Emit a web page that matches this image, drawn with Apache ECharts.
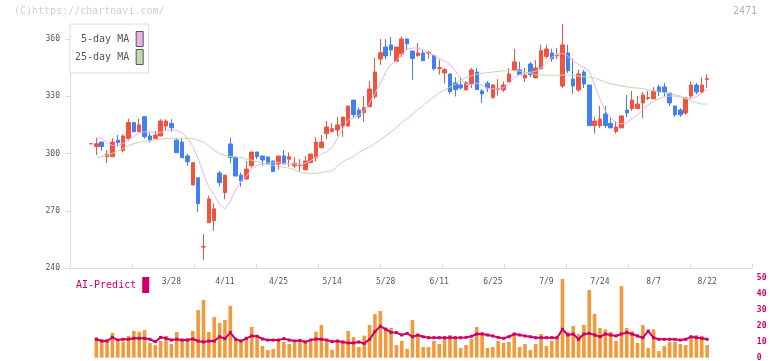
<!DOCTYPE html>
<html>
<head>
<meta charset="utf-8">
<script src="https://cdn.jsdelivr.net/npm/echarts@6/dist/echarts.min.js"></script>
<style>html,body{margin:0;padding:0;background:#fff}#c{width:772px;height:361px}</style>
</head>
<body>
<div id="c"></div>
<script>
const dates = ['3/6','3/7','3/8','3/11','3/12','3/13','3/14','3/15','3/18','3/19','3/21','3/22','3/25','3/26','3/27','3/28','3/29',
'4/1','4/2','4/3','4/4','4/5','4/8','4/9','4/10','4/11','4/12','4/15','4/16','4/17','4/18','4/19','4/22','4/23','4/24','4/25','4/26','4/30',
'5/1','5/2','5/7','5/8','5/9','5/10','5/13','5/14','5/15','5/16','5/17','5/20','5/21','5/22','5/23','5/24','5/27','5/28','5/29','5/30','5/31',
'6/3','6/4','6/5','6/6','6/7','6/10','6/11','6/12','6/13','6/14','6/17','6/18','6/19','6/20','6/21','6/24','6/25','6/26','6/27','6/28',
'7/1','7/2','7/3','7/4','7/5','7/8','7/9','7/10','7/11','7/12','7/16','7/17','7/18','7/19','7/22','7/23','7/24','7/25','7/26','7/29','7/30','7/31',
'8/1','8/2','8/5','8/6','8/7','8/8','8/9','8/13','8/14','8/15','8/16','8/19','8/20','8/21','8/22'];

const tickLabels = ['3/28','4/11','4/25','5/14','5/28','6/11','6/25','7/9','7/24','8/7','8/22'];

const openP = [305.1,303.6,306,298.3,298.3,307,301.5,307.8,316.2,311.4,
 319.3,309.2,307.8,309.2,314.4,315.8,307,306,298.7,283.5,
 287.3,251,263.7,264.8,289.8,279.5,305,298,288.7,286.6,
 293.6,300.8,298.7,298.2,296.1,294.5,298.7,297,293.5,293.7,
 291.5,295.2,297.8,303,310.4,311.6,312.3,314.4,314.4,328,
 322.8,321.4,324.5,329.8,349.5,355.8,356.9,348.3,352.1,360,
 353.7,351.3,352.7,352.6,351.3,344.6,342.2,341.7,337,335.9,
 333.3,336.4,342.7,332.8,336.8,329.4,333.7,333.3,337.5,343.4,
 343.8,339.6,346.9,339.6,344.4,350.9,352.7,351.2,335.4,352.7,
 339,333.3,342.7,335.9,314.6,314.6,320.7,315.8,311.6,313.4,
 322.8,323.5,323.5,326.5,328.9,328.6,334.9,334.9,331.7,324.9,
 322.8,321.2,330.1,335.9,332.2,338.8];

const closeP = [305.1,305.1,303.6,299.7,306,305.7,309.2,316.2,311.4,315,
 308.8,306.7,309.7,317,317,313.5,300.4,297.8,295.7,295.2,
 273.7,251.2,276.2,271,284.7,288.7,298,288.2,285.6,291.9,
 300.8,298.3,296.6,294.5,290.5,298.7,294.5,298.3,294.9,293.9,
 296.1,299.7,306,306,313.9,313,315,319.1,324.9,320.3,
 319.3,324,333.8,342.7,352.8,351.1,354.2,355.8,360,357.5,
 349.7,352.7,348.6,352.9,344.4,345,343.9,332.4,333.5,334.3,
 337,343.8,333.5,331.2,334.3,335.9,334,335.9,341.7,348,
 341.3,341.1,341.3,344.8,353.9,354.8,349.7,351.6,356.9,343.4,
 335.4,341.7,336.4,314.6,317,318,314.6,313.4,313.9,319.7,
 321.2,328,325.9,330.7,329.3,332.8,332.2,332.2,326.5,320.3,
 320.3,329.1,335.9,332.2,335.9,339.2];

const lowP = [305.1,299.2,301.5,295,298.3,303.6,300.5,306.7,311.2,311.4,
 307.8,305.7,307.8,309,312.3,311.4,300.4,297.8,293.6,283.5,
 269.2,244.2,263.7,259.5,282.6,276,294.9,288.2,282.6,286.6,
 292.6,297,293.6,294,290.5,291.5,294.5,293.1,292.2,290.5,
 291,295.2,295.7,302.7,307.6,310.9,309.2,308.8,314.4,318.8,
 318.1,316.7,324.5,328.6,346.4,349.4,351.1,348.3,350.6,354.4,
 338.6,350.6,348.6,349.7,343.4,341.3,336.6,331.2,329.9,333.5,
 333.3,334.3,333.5,326.5,332.2,328.7,330.3,332.2,337.5,343.4,
 341.3,337.5,340,339.6,343.9,349.7,348,349.5,334.3,342.2,
 331.2,332.2,334.3,314.6,310.4,313.4,313.4,313.4,310.4,313.4,
 319.1,322.3,323.5,318.6,328,328.6,330,330,324.9,319.1,
 319.1,320.3,329.1,331.2,331.2,334.3];

const highP = [305.1,308.3,306,301.8,308,309.7,310,318.2,316.4,318.2,
 319.5,310.9,311.8,318,318,318,308,308,300,295.2,
 287.3,257.8,277.9,273.9,291,288.7,308.3,298,290,296,
 300.8,300.8,298.7,298.5,296.1,298.7,301.8,300.6,298,297,
 298.7,299.7,308.5,309.7,317,315.8,319,319.1,324.9,328,
 324,330.1,338,350.2,360,360,361.2,355.8,361.2,360,
 353.7,357.9,354.8,353.9,351.3,349.2,344.8,341.7,340,340,
 338,344.8,344.8,333.8,338,336.4,339,337.8,344.8,354.8,
 348,344.8,348,349,357,357,354.9,355.3,367.9,357,
 349.7,343.9,343.9,335.9,319.1,324.9,324.9,319.1,317,319.7,
 330.7,332.8,330.1,332.2,332.8,334.9,335.9,337,331.7,324.9,
 323.8,329.6,337.8,336.9,340,341.5];

const ma5 = [null,308,308,305.5,304.2,304.1,305.3,307.3,308.8,310.6,
 311.4,311.4,310.8,311.1,312.1,312.6,312.1,310.8,308.1,303.8,
 297.3,289.5,282.3,278,273.5,271,275,281,285.5,288,
 292,293.8,294.6,295,295.2,295.2,294.8,294.5,294.5,294.3,
 295,296.2,298,299.5,301,303,308,313,317.5,318.6,
 320,322.5,326.5,331.5,337,342.5,346.8,348.5,352,354.5,
 355.3,355.2,354.3,352.9,351.5,349.8,348.5,346.5,343.4,339.3,
 336.1,336.1,336.9,335.8,334.2,333.9,333.8,334.5,336.5,339.6,
 341.4,342.1,342.6,343.1,344.8,347.9,350.5,352,352.5,351,
 348.5,346.5,345,343,336,328.5,322.5,318.5,316.2,315.5,
 316.1,318.2,320.2,323,325.5,327.1,328.7,329.8,330.1,330.1,
 329.4,328.6,328.7,329.8,331.5,333.8];

const ma25 = [null,298,298.3,299.2,300.1,301.2,302.7,304.1,305.2,305.8,
 306.3,306.8,307.1,307.5,307.8,308,308,308,308,307.8,
 307,306,303.9,301.7,299.9,299,298.5,298.2,297.9,297,
 296.5,295.7,295,294.3,293.8,293.2,292.8,292.3,291.3,290.3,
 289.7,289.6,289.6,290,290.6,291,293.3,295.7,297.3,298.4,
 300.6,302.1,303.6,305.3,307.3,309.3,311.3,313.5,316.3,318.3,
 320.5,322.9,325.3,327.5,329.7,331.8,333.2,334.8,336.3,338.5,
 339.8,340.8,341.5,342,342.4,342.7,343,343.3,343.4,343.5,
 343.2,342.6,342,341.3,341.1,341,341,341,341.1,341.1,
 340.9,340.5,340.3,339.9,339.6,338.6,337.3,336.5,336,335.3,
 335,334.5,334.3,334,333.4,332.8,332.2,331.8,331.3,330.8,
 330.2,329,327.7,326.6,325.9,325.9];

const volume = [null,12.8,11.6,11.6,15.6,10.1,10.1,13.7,16.8,16.4,
 17.4,9.3,8.0,10.5,13.7,8.6,16.2,11.1,12.2,16.8,
 30.0,36.3,16.2,25.6,21.9,23.7,32.6,11.1,9.9,12.6,
 19.3,12.8,7.4,4.8,5.5,10.5,9.9,8.6,9.3,11.1,
 10.3,9.9,16.4,20.6,10.3,5.0,9.9,10.1,16.8,13.0,
 6.7,13.9,20.6,27.5,29.4,18.5,18.7,8.0,10.5,5.5,
 23.7,13.7,6.7,6.7,10.5,8.6,11.8,14.3,11.8,6.1,
 8.0,11.8,19.3,16.2,6.1,6.7,10.5,9.3,9.9,15.6,
 6.7,8.6,4.8,8.6,14.9,7.4,10.5,11.8,49.6,16.2,
 20.0,14.9,20.6,42.6,27.5,18.7,17.8,16.2,10.5,45.1,
 18.7,16.6,9.3,20.6,6.1,17.8,4.2,7.4,9.9,9.9,
 8.6,8.0,13.0,14.3,13.7,8.0];

const aiPredict = [null,11.6,10.5,10.5,12.8,11.1,11.6,11.6,12.2,12.2,
 12.2,11.6,10.1,12.8,12.2,11.1,11.6,11.1,11.1,11.8,
 10.5,9.9,10.5,10.5,13.2,12.0,15.8,11.6,10.5,12.2,
 13.7,13.5,11.8,11.1,11.1,11.1,12.0,11.1,10.5,10.9,
 9.9,11.1,11.8,11.6,11.1,10.1,10.5,9.9,9.3,9.3,
 9.9,9.0,11.6,16.4,19.8,18.0,16.0,15.8,14.3,15.3,
 13.2,14.3,13.2,12.6,12.6,12.6,12.6,12.6,12.6,12.6,
 12.8,13.5,14.9,14.9,14.3,13.7,12.8,12.2,13.2,14.9,
 14.3,13.7,13.2,12.6,12.6,12.6,12.6,12.6,17.9,14.3,
 14.9,11.6,14.9,15.3,14.3,13.2,14.9,14.3,13.7,14.9,
 15.8,14.9,13.7,12.6,16.8,12.6,11.6,11.6,11.6,11.6,
 11.1,11.6,13.2,12.6,12.2,11.6];

const FONT = 'DejaVu Sans Mono';
const RED = '#f05340', BLUE = '#4080f0';
const PINK = '#e8b4e8', GREEN = '#bcdcac', MAG = '#cc0066', ORANGE = '#f2993c';
const AXIS = '#dcdcdc';

const candles = dates.map((d, i) => [openP[i], closeP[i], lowP[i], highP[i]]);

const chart = echarts.init(document.getElementById('c'));
chart.setOption({
  animation: false,
  backgroundColor: '#fff',
  title: [
    { text: '(C)https://chartnavi.com/', left: 14, top: 6, padding: 0,
      textStyle: { fontFamily: FONT, fontSize: 10, fontWeight: 'normal', color: '#cfcfcf' } },
    { text: '2471', right: 15, top: 6, padding: 0,
      textStyle: { fontFamily: FONT, fontSize: 10, fontWeight: 'normal', color: '#b4b4b4' } }
  ],
  legend: [
    { data: ['5-day MA', '25-day MA'], orient: 'vertical', left: 70, top: 24, align: 'right',
      icon: 'rect', itemWidth: 7, itemHeight: 15, itemGap: 2, padding: [7, 5, 8, 5],
      backgroundColor: '#fff', borderColor: AXIS, borderWidth: 1, selectedMode: false,
      itemStyle: { borderColor: '#555', borderWidth: 1 },
      textStyle: { fontFamily: FONT, fontSize: 10, color: '#555', padding: [0, 2, 0, 0] } },
    { data: ['AI-Predict'], left: 76, top: 277, align: 'right', icon: 'rect',
      itemWidth: 7, itemHeight: 16, padding: 0, selectedMode: false,
      itemStyle: { borderWidth: 0 },
      textStyle: { fontFamily: FONT, fontSize: 10, color: MAG, padding: [0, 1, 0, 0] } }
  ],
  grid: [
    { left: 70, right: 20, top: 39, bottom: 93, outerBoundsMode: 'none' },
    { left: 88.32, width: 621.5, top: 39, bottom: 93, outerBoundsMode: 'none' },
    { left: 88.32, width: 621.5, top: 278.3, height: 79.4, outerBoundsMode: 'none' }
  ],
  xAxis: [
    { type: 'value', gridIndex: 0, min: 0, max: 11, interval: 1,
      axisLine: { show: true, lineStyle: { color: AXIS } },
      axisTick: { show: true, inside: true, length: 4, lineStyle: { color: AXIS } },
      axisLabel: { show: false }, splitLine: { show: false } },
    { type: 'category', gridIndex: 1, data: dates,
      axisLine: { show: false }, axisTick: { show: false }, splitLine: { show: false },
      axisLabel: { interval: (i, v) => tickLabels.includes(v), margin: 10,
        fontFamily: FONT, fontSize: 8, color: '#555' } },
    { type: 'category', gridIndex: 2, data: dates, show: false }
  ],
  yAxis: [
    { type: 'value', gridIndex: 0, min: 240, max: 360, interval: 30,
      axisLine: { show: true, lineStyle: { color: AXIS } },
      axisTick: { show: true, length: 5, lineStyle: { color: AXIS } },
      axisLabel: { margin: 10, fontFamily: FONT, fontSize: 8, color: '#555' },
      splitLine: { show: false } },
    { type: 'value', gridIndex: 1, min: 240, max: 360, show: false },
    { type: 'value', gridIndex: 2, min: 0, max: 50, interval: 10, position: 'right',
      axisLine: { show: false }, axisTick: { show: false }, splitLine: { show: false },
      axisLabel: { margin: 47, fontFamily: FONT, fontSize: 8, fontWeight: 'bold', color: MAG } }
  ],
  series: [
    { name: 'Price', type: 'candlestick', xAxisIndex: 1, yAxisIndex: 1, data: candles,
      barWidth: 4, clip: false,
      itemStyle: { color: RED, color0: BLUE, borderColor: RED, borderColor0: BLUE, borderWidth: 1 } },
    { name: '5-day MA', type: 'line', xAxisIndex: 1, yAxisIndex: 1, data: ma5,
      symbol: 'none', itemStyle: { color: PINK }, lineStyle: { color: PINK, width: 1 } },
    { name: '25-day MA', type: 'line', xAxisIndex: 1, yAxisIndex: 1, data: ma25,
      symbol: 'none', itemStyle: { color: GREEN }, lineStyle: { color: GREEN, width: 1 } },
    { name: 'Volume', type: 'bar', xAxisIndex: 2, yAxisIndex: 2, data: volume,
      barWidth: 3.6, itemStyle: { color: ORANGE } },
    { name: 'AI-Predict', type: 'line', xAxisIndex: 2, yAxisIndex: 2, data: aiPredict,
      symbol: 'rect', symbolSize: 3, showSymbol: true,
      itemStyle: { color: MAG }, lineStyle: { color: MAG, width: 2 } }
  ]
});
</script>
</body>
</html>
